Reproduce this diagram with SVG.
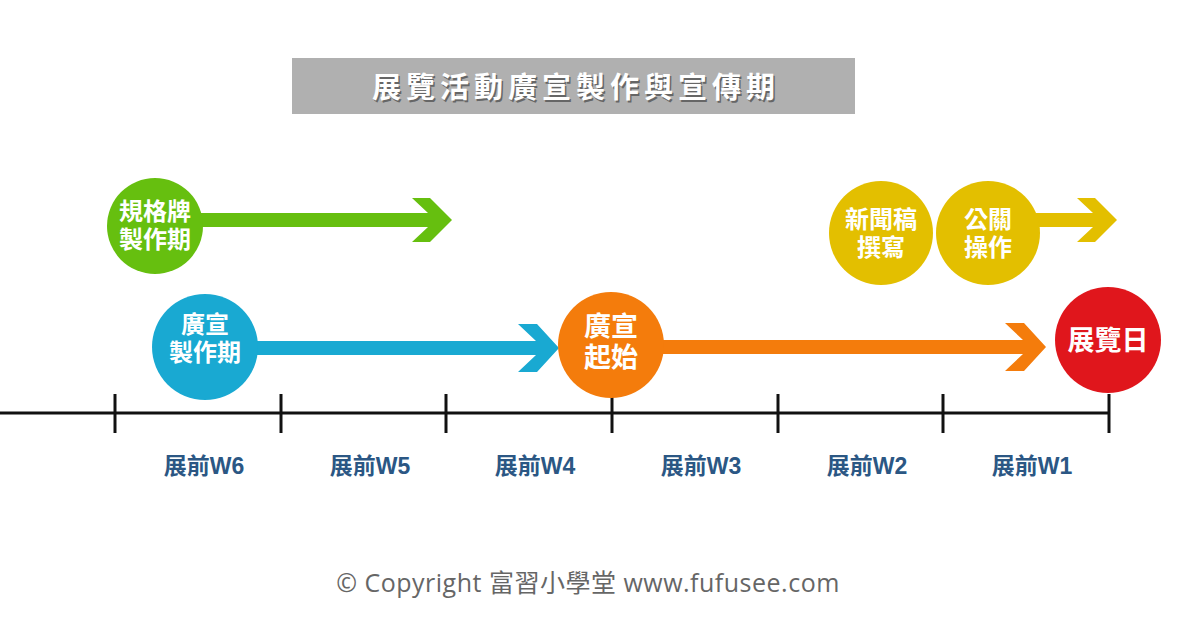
<svg xmlns="http://www.w3.org/2000/svg" width="1200" height="627" viewBox="0 0 1200 627">
<style>
.ct{font-family:"Liberation Sans","Noto Sans CJK TC",sans-serif;font-weight:bold;fill:#fff;text-anchor:middle}
.wk{font-family:"Liberation Sans","Noto Sans CJK TC",sans-serif;font-weight:bold;fill:#2b5784;font-size:23px;text-anchor:middle}
</style>
<rect width="1200" height="627" fill="#fff"/>
<g id="title">
<rect x="292" y="58" width="563" height="56" fill="#b0b0b0"/>
<text x="576" y="98" class="ct" font-size="29" letter-spacing="5" style="fill:#666" dx="1.5" dy="1.5">展覽活動廣宣製作與宣傳期</text>
<text x="576" y="98" class="ct" font-size="29" letter-spacing="5">展覽活動廣宣製作與宣傳期</text>
</g>
<g id="connectors">
<path d="M195 213H428L412 198H430L452 220L430 242H412L428 227H195Z" fill="#66bf0f"/>
<path d="M245 341H536L518 324H537L559 348L537 372H518L536 355H245Z" fill="#19a9d2"/>
<path d="M650 340H1023L1005 323H1024L1046 347L1024 371H1005L1023 354H650Z" fill="#f47c0c"/>
<path d="M1030 213H1093L1077 198H1095L1117 220L1095 242H1077L1093 227H1030Z" fill="#e3bf00"/>
<g stroke="#111" stroke-width="3">
<line x1="0" y1="413" x2="1110" y2="413"/>
<line x1="115" y1="394" x2="115" y2="433"/><line x1="281" y1="394" x2="281" y2="433"/><line x1="446" y1="394" x2="446" y2="433"/><line x1="612" y1="394" x2="612" y2="433"/><line x1="778" y1="394" x2="778" y2="433"/><line x1="943" y1="394" x2="943" y2="433"/><line x1="1109" y1="394" x2="1109" y2="433"/>
</g>
</g>
<g id="n-green"><circle cx="155" cy="226" r="48" fill="#66bf0f"/><text class="ct" font-size="24" x="155" y="220">規格牌</text><text class="ct" font-size="24" x="155" y="248">製作期</text></g>
<g id="n-blue"><circle cx="205" cy="347" r="53" fill="#19a9d2"/><text class="ct" font-size="24" x="205" y="333">廣宣</text><text class="ct" font-size="24" x="205" y="361">製作期</text></g>
<g id="n-orange"><circle cx="611" cy="345" r="53" fill="#f47c0c"/><text class="ct" font-size="27" x="611" y="336">廣宣</text><text class="ct" font-size="27" x="611" y="367">起始</text></g>
<g id="n-red"><circle cx="1108" cy="340" r="53" fill="#e0161c"/><text class="ct" font-size="27" x="1108" y="350">展覽日</text></g>
<g id="n-y1"><circle cx="881" cy="233" r="52" fill="#e3bf00"/><text class="ct" font-size="24" x="881" y="228">新聞稿</text><text class="ct" font-size="24" x="881" y="256">撰寫</text></g>
<g id="n-y2"><circle cx="988" cy="233" r="52" fill="#e3bf00"/><text class="ct" font-size="24" x="988" y="228">公關</text><text class="ct" font-size="24" x="988" y="256">操作</text></g>
<g id="weeks">
<text class="wk" x="204" y="474">展前W6</text><text class="wk" x="370" y="474">展前W5</text><text class="wk" x="535" y="474">展前W4</text><text class="wk" x="701" y="474">展前W3</text><text class="wk" x="867" y="474">展前W2</text><text class="wk" x="1032" y="474">展前W1</text>
</g>
<text x="588" y="592" font-family="'Open Sans','Noto Sans CJK TC',sans-serif" font-size="25" letter-spacing="0.5" fill="#666" text-anchor="middle">© Copyright 富習小學堂 www.fufusee.com</text>
</svg>
